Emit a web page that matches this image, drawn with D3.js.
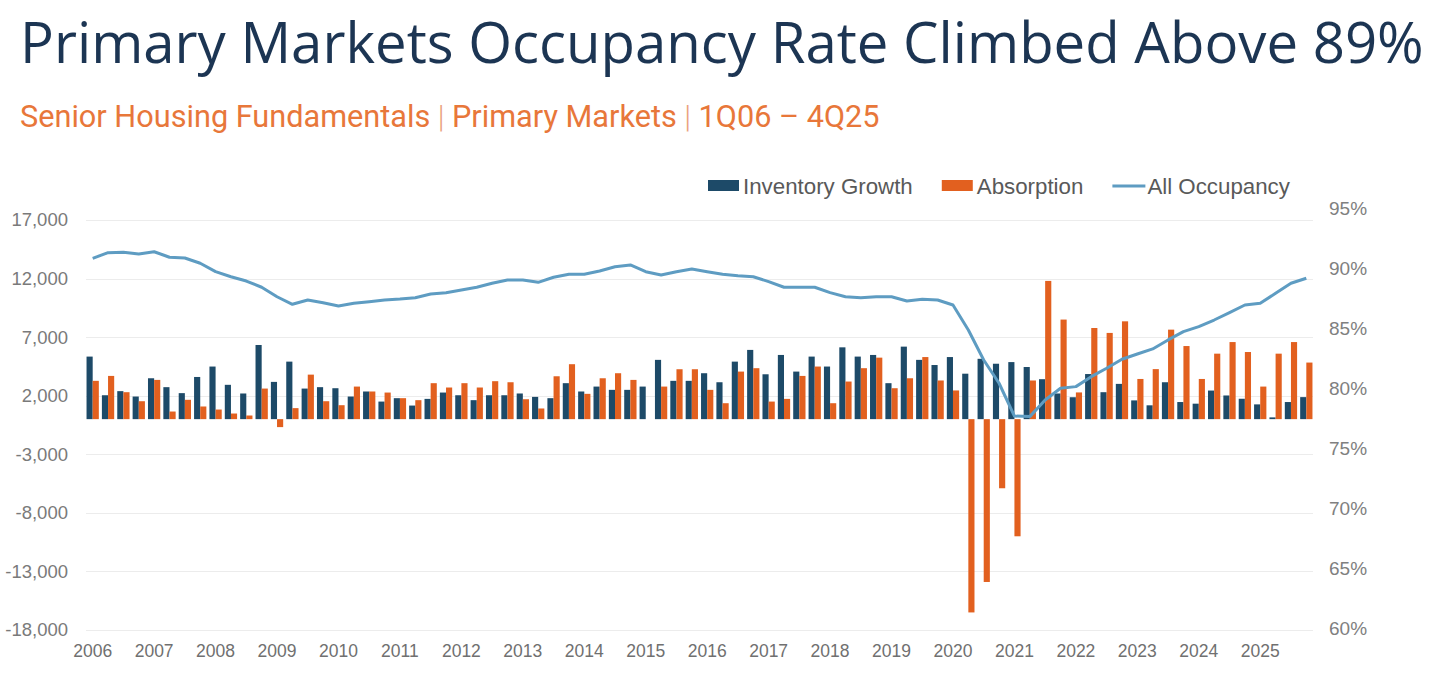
<!DOCTYPE html>
<html>
<head>
<meta charset="utf-8">
<script src="https://cdn.jsdelivr.net/npm/d3@7"></script>
<style>
  html, body { margin: 0; padding: 0; background: #ffffff; }
  svg { display: block; }
</style>
</head>
<body>
<div id="chart"></div>
<script>
// ---------------- DATA ----------------
const years = [2006, 2007, 2008, 2009, 2010, 2011, 2012, 2013, 2014, 2015,
               2016, 2017, 2018, 2019, 2020, 2021, 2022, 2023, 2024, 2025];
const quarters = years.flatMap(y => [1, 2, 3, 4].map(q => q + "Q" + String(y).slice(2)));

const inventoryGrowth = [
  5340, 2040, 2390, 1930,   3490, 2730, 2220, 3600,   4490, 2930, 2190, 6330,
  3180, 4910, 2610, 2730,   2640, 1930, 2360, 1500,   1790, 1160, 1730, 2270,
  2040, 1620, 2040, 2040,   2190, 1900, 1790, 3070,   2360, 2780, 2500, 2500,
  2780, 5060, 3270, 3270,   3920, 3150, 4910, 5910,   3830, 5480, 4060, 5340,
  4490, 6130, 5340, 5480,   3070, 6190, 5060, 4620,   5300, 3880, 5150, 4730,
  4870, 4450, 3410, 2190,   1870, 3850, 2300, 3010,   1600, 1180, 3150, 1460,
  1320, 2440, 2020, 1740,   1260, 150, 1460, 1880
];
const absorption = [
  3270, 3690, 2300, 1530,   3350, 650, 1650, 1080,    820, 480, 310, 2610,
  -680, 940, 3800, 1530,    1190, 2780, 2360, 2270,   1790, 1620, 3070, 2700,
  3070, 2700, 3240, 3150,   1700, 910, 3660, 4690,    2160, 3490, 3920, 3350,
  0, 2780, 4260, 4260,      2500, 1360, 4060, 4350,   1500, 1730, 3690, 4490,
  1360, 3210, 4350, 5250,   2640, 3490, 5300, 3300,   2450, -16500, -13900, -5900,
  -10000, 3300, 11800, 8500, 2280, 7780, 7360, 8350,  3430, 4270, 7640, 6240,
  3430, 5590, 6580, 5730,   2780, 5590, 6580, 4830
];
const allOccupancy = [
  90.83, 91.30, 91.33, 91.19, 91.38, 90.92, 90.86, 90.42,
  89.72, 89.30, 88.94, 88.42, 87.63, 87.00, 87.36, 87.13,
  86.86, 87.08, 87.22, 87.36, 87.44, 87.55, 87.86, 87.97,
  88.19, 88.42, 88.75, 89.03, 89.03, 88.83, 89.25, 89.50,
  89.50, 89.78, 90.13, 90.28, 89.72, 89.44, 89.72, 89.94,
  89.72, 89.50, 89.38, 89.30, 88.89, 88.42, 88.42, 88.42,
  87.97, 87.63, 87.55, 87.63, 87.63, 87.28, 87.42, 87.36,
  86.94, 84.86, 82.36, 80.42, 77.69, 77.64, 79.03, 80.00,
  80.14, 80.97, 81.67, 82.42, 82.86, 83.28, 84.03, 84.72,
  85.14, 85.69, 86.30, 86.94, 87.08, 87.92, 88.75, 89.17
];
const leftTicks = [17000, 12000, 7000, 2000, -3000, -8000, -13000, -18000];
const rightTicks = [95, 90, 85, 80, 75, 70, 65, 60];
const seriesNames = ["Inventory Growth", "Absorption", "All Occupancy"];
const titleText = "Primary Markets Occupancy Rate Climbed Above 89%";
const subtitleParts = ["Senior Housing Fundamentals", "Primary Markets", "1Q06 \u2013 4Q25"];

// ---------------- LAYOUT / STYLE ----------------
const W = 1438, H = 674;
const plot = { left: 85, right: 1314, top: 220, bottom: 630 };
const colInv = "#1d4a68", colAbs = "#e2601f", colLine = "#5e9cc2";
const axisFont = "'Liberation Sans', Arial, sans-serif";

const svg = d3.select("#chart").append("svg").attr("width", W).attr("height", H);

// Title
const title = svg.append("text")
  .attr("x", 20).attr("y", 63)
  .attr("font-family", "'Open Sans', 'Noto Sans', sans-serif")
  .attr("font-size", 52).attr("fill", "#1c3553")
  .text(titleText);
const tw = title.node().getComputedTextLength();
title.attr("font-size", 52 * 1404 / tw);

// Subtitle
const sub = svg.append("text")
  .attr("x", 20).attr("y", 127)
  .attr("font-family", "Roboto, 'Noto Sans', sans-serif")
  .attr("font-size", 26).attr("fill", "#e8773a");
subtitleParts.forEach((p, i) => {
  if (i > 0) sub.append("tspan").attr("fill", "#eaa27c").attr("font-weight", 300).text(" | ");
  sub.append("tspan").text(p);
});
const sw = sub.node().getComputedTextLength();
sub.attr("font-size", 26 * 860 / sw);

// Scales
const x = d3.scaleBand().domain(quarters).range([plot.left, plot.right]).paddingInner(0).paddingOuter(0);
const xi = d3.scaleBand().domain(["inv", "abs"]).range([0, x.bandwidth()]).paddingOuter(0.25).paddingInner(0);
const yL = d3.scaleLinear().domain([-18000, 17000]).range([plot.bottom, plot.top]);
const yR = d3.scaleLinear().domain([60, 95]).range([628.3, 208.3]);

// Gridlines
svg.append("g").selectAll("line").data(leftTicks).join("line")
  .attr("x1", 86).attr("x2", 1313)
  .attr("y1", d => Math.round(yL(d)) + 0.5).attr("y2", d => Math.round(yL(d)) + 0.5)
  .attr("stroke", "#ececec").attr("stroke-width", 1);

// Left axis
const fmt = d => d3.format(",")(d).replace("\u2212", "-");
const gL = svg.append("g").attr("transform", `translate(86,0)`)
  .call(d3.axisLeft(yL).tickValues(leftTicks).tickSize(0).tickPadding(18).tickFormat(fmt));
gL.select(".domain").remove();
gL.selectAll("text").attr("font-family", axisFont).attr("font-size", 18.5).attr("fill", "#7a7a7a");

// Right axis
const gR = svg.append("g").attr("transform", `translate(1313,0)`)
  .call(d3.axisRight(yR).tickValues(rightTicks).tickSize(0).tickPadding(16).tickFormat(d => d + "%"));
gR.select(".domain").remove();
gR.selectAll("text").attr("font-family", axisFont).attr("font-size", 19).attr("fill", "#808080");

// Bottom axis (year labels at first quarter of each year)
const gB = svg.append("g").attr("transform", `translate(0,${plot.bottom})`)
  .call(d3.axisBottom(x).tickValues(quarters.filter(q => q.startsWith("1Q")))
    .tickSize(0).tickPadding(15).tickFormat(q => "20" + q.slice(2)));
gB.select(".domain").remove();
gB.selectAll("text").attr("font-family", axisFont).attr("font-size", 17.5).attr("fill", "#707070");

// Bars
const rows = quarters.map((q, i) => ({ q, inv: inventoryGrowth[i], abs: absorption[i], occ: allOccupancy[i] }));
const bars = svg.append("g");
bars.selectAll("rect.inv").data(rows).join("rect").attr("class", "inv")
  .attr("x", d => x(d.q) + xi("inv")).attr("width", xi.bandwidth())
  .attr("y", d => yL(Math.max(0, d.inv))).attr("height", d => Math.abs(yL(d.inv) - yL(0)))
  .attr("fill", colInv);
bars.selectAll("rect.abs").data(rows).join("rect").attr("class", "abs")
  .attr("x", d => x(d.q) + xi("abs")).attr("width", xi.bandwidth())
  .attr("y", d => yL(Math.max(0, d.abs))).attr("height", d => Math.abs(yL(d.abs) - yL(0)))
  .attr("fill", colAbs);

// Occupancy line
svg.append("path").datum(rows)
  .attr("fill", "none").attr("stroke", colLine).attr("stroke-width", 3).attr("stroke-linejoin", "round")
  .attr("d", d3.line().x(d => x(d.q) + x.bandwidth() / 2).y(d => yR(d.occ)));

// Legend
const legend = svg.append("g").attr("transform", "translate(708,186)");
let lx = 0;
seriesNames.forEach((name, i) => {
  const g = legend.append("g").attr("transform", `translate(${lx},0)`);
  if (i < 2) {
    g.append("rect").attr("x", 0).attr("y", -6).attr("width", 31).attr("height", 11)
      .attr("fill", i === 0 ? colInv : colAbs);
  } else {
    g.append("line").attr("x1", 0).attr("x2", 33).attr("y1", 0).attr("y2", 0)
      .attr("stroke", colLine).attr("stroke-width", 3);
  }
  const t = g.append("text").attr("x", 35).attr("y", 0).attr("dy", "0.35em")
    .attr("font-family", axisFont).attr("font-size", 22.3).attr("fill", "#595959").text(name);
  lx += 35 + t.node().getComputedTextLength() + 29;
});
</script>
</body>
</html>
